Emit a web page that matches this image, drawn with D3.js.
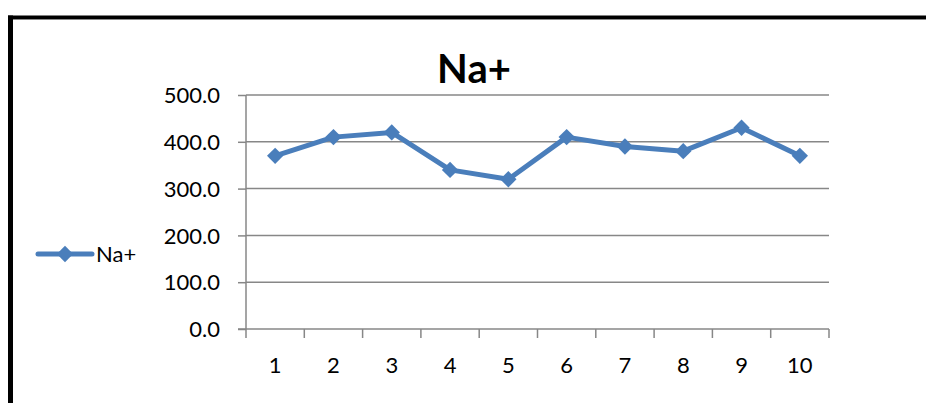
<!DOCTYPE html>
<html><head><meta charset="utf-8">
<script src="https://cdn.jsdelivr.net/npm/d3@7/dist/d3.min.js"></script>
<style>body{margin:0;background:#fff}svg{display:block}text{font-family:Lato,"Open Sans",sans-serif}</style>
</head><body><svg id="c" width="926" height="403"></svg>
<script>
const categories = ["1","2","3","4","5","6","7","8","9","10"];
const naValues = [370,410,420,340,320,410,390,380,430,370];
const yTicks = [0,100,200,300,400,500];
const seriesName = "Na+";
const title = "Na+";

const svg = d3.select("#c");
const W=926,H=403;
const pLeft=246,pRight=829,pTop=95,pBottom=329;
const blue="#4a7ebb", grid="#878787";

// border
svg.append("line").attr("x1",8).attr("x2",W).attr("y1",17.5).attr("y2",17.5).attr("stroke","#000").attr("stroke-width",4);
svg.append("line").attr("x1",8).attr("x2",W).attr("y1",19.5).attr("y2",19.5).attr("stroke","#888").attr("stroke-width",1);
svg.append("line").attr("x1",10.5).attr("x2",10.5).attr("y1",15.5).attr("y2",H).attr("stroke","#000").attr("stroke-width",5);

const x = d3.scaleBand().domain(categories).range([pLeft,pRight]);
const y = d3.scaleLinear().domain([0,500]).range([pBottom,pTop]);

// gridlines
svg.append("g").selectAll("line").data(yTicks.filter(d=>d>0)).join("line")
  .attr("x1",pLeft).attr("x2",pRight).attr("y1",d=>y(d)).attr("y2",d=>y(d))
  .attr("stroke",grid).attr("stroke-width",1.5);

// y axis
const ya = svg.append("g").attr("transform",`translate(${pLeft},0)`)
  .call(d3.axisLeft(y).tickValues(yTicks).tickFormat(d3.format(".1f")).tickSize(8).tickPadding(18));
ya.select(".domain").attr("stroke",grid).attr("stroke-width",1.5).attr("d",`M0,${pTop}V${pBottom+9}`);
ya.selectAll(".tick line").attr("stroke",grid).attr("stroke-width",1.5);
ya.selectAll("text").attr("font-size",22).attr("fill","#000").attr("dy","0.35em");

// x axis
const xa = svg.append("g").attr("transform",`translate(0,${pBottom})`)
  .call(d3.axisBottom(x).tickSize(0).tickPadding(28));
xa.select(".domain").attr("stroke",grid).attr("stroke-width",1.5).attr("d",`M${pLeft-8},0H${pRight}`);
xa.selectAll("text").attr("font-size",22).attr("fill","#000");
xa.selectAll(".bnd").data(categories).join("line").attr("class","bnd")
  .attr("x1",d=>x(d)+x.bandwidth()).attr("x2",d=>x(d)+x.bandwidth())
  .attr("y1",0).attr("y2",9).attr("stroke",grid).attr("stroke-width",1.5);

// line
const cx = (d,i)=>x(categories[i])+x.bandwidth()/2;
svg.append("path").datum(naValues)
  .attr("d",d3.line().x((d,i)=>cx(d,i)).y(d=>y(d)))
  .attr("fill","none").attr("stroke",blue).attr("stroke-width",5).attr("stroke-linejoin","round");
const diamond = d3.symbol().type(d3.symbolDiamond2).size(170);
svg.append("g").selectAll("path").data(naValues).join("path")
  .attr("transform",(d,i)=>`translate(${cx(d,i)},${y(d)})`)
  .attr("d",diamond).attr("fill",blue);

// title
svg.append("text").attr("x",474).attr("y",83).attr("text-anchor","middle")
  .attr("font-size",40).attr("font-weight","bold").text(title);

// legend
svg.append("line").attr("x1",38).attr("x2",92).attr("y1",254).attr("y2",254)
  .attr("stroke",blue).attr("stroke-width",5).attr("stroke-linecap","round");
svg.append("path").attr("transform","translate(65,254)").attr("d",diamond).attr("fill",blue);
svg.append("text").attr("x",96).attr("y",254).attr("dy","0.35em").attr("font-size",22).text(seriesName);
</script></body></html>
